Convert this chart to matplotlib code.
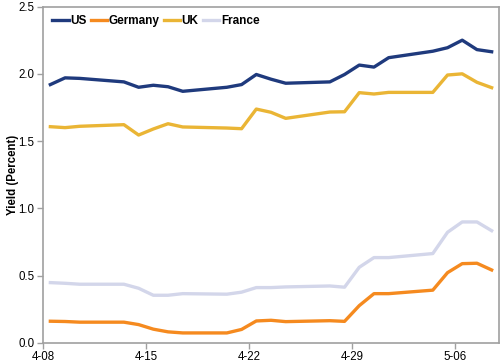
import numpy as np
import matplotlib
matplotlib.use("Agg")
import matplotlib.pyplot as plt

plt.rcParams["font.family"] = ["Liberation Sans", "DejaVu Sans"]

# trading days, as day offsets from 4-08
days = [0, 1, 2, 5, 6, 7, 8, 9, 12, 13, 14, 15, 16, 19, 20, 21, 22, 23, 26, 27, 28, 29, 30]

us = [1.92, 1.97, 1.966, 1.94, 1.90, 1.915, 1.904, 1.87, 1.90, 1.92, 1.995, 1.96, 1.93,
      1.94, 1.995, 2.065, 2.05, 2.12, 2.168, 2.194, 2.25, 2.18, 2.164]
germany = [0.161, 0.159, 0.154, 0.154, 0.136, 0.102, 0.082, 0.074, 0.074, 0.10, 0.163, 0.168, 0.158,
           0.165, 0.16, 0.277, 0.366, 0.366, 0.392, 0.522, 0.589, 0.592, 0.542]
uk = [1.607, 1.60, 1.61, 1.622, 1.545, 1.59, 1.629, 1.605, 1.597, 1.592, 1.738, 1.714, 1.669,
      1.716, 1.718, 1.86, 1.85, 1.862, 1.862, 1.991, 2.0, 1.937, 1.897]
france = [0.448, 0.443, 0.436, 0.436, 0.406, 0.354, 0.354, 0.366, 0.362, 0.377, 0.411, 0.411, 0.416,
          0.423, 0.414, 0.562, 0.634, 0.634, 0.664, 0.822, 0.899, 0.899, 0.834]

tick_days = [0, 7, 14, 21, 28]
tick_labels = ["4-08", "4-15", "4-22", "4-29", "5-06"]

series = [("US", us, "#1f3a7d"), ("Germany", germany, "#f58a1f"),
          ("UK", uk, "#eab535"), ("France", france, "#d3d6ea")]

fig = plt.figure(figsize=(5, 3.64), dpi=100)
ax = fig.add_axes([0.086, 0.058, 0.912, 0.924])

# points sit in the middle of each day slot
x = np.array(days) + 0.5
for name, vals, col in series:
    ax.plot(x, vals, color=col, lw=2.4, label=name, solid_joinstyle="round")

ax.set_xlim(0, 31)
ax.set_ylim(0, 2.5)
ax.set_xticks(tick_days)
ax.set_xticklabels(tick_labels)
ax.set_yticks([0, 0.5, 1.0, 1.5, 2.0, 2.5])
ax.set_yticklabels(["0.0", "0.5", "1.0", "1.5", "2.0", "2.5"])
ax.tick_params(labelsize=8.3, length=4, width=1, color="#a0a0a0", pad=2)

for s in ax.spines.values():
    s.set_color("#a0a0a0")
    s.set_linewidth(1.2)

ax.set_ylabel("Yield (Percent)", fontsize=8.3, fontweight="bold")
ax.yaxis.set_label_coords(-0.052, 0.5)

leg = ax.legend(loc="upper left", ncol=4, frameon=False, handlelength=1.4,
                columnspacing=0.35, handletextpad=0.12, borderaxespad=0.2,
                prop={"size": 8.5, "weight": "bold"}, bbox_to_anchor=(0.005, 0.995))

fig.savefig("out.png", dpi=100)
